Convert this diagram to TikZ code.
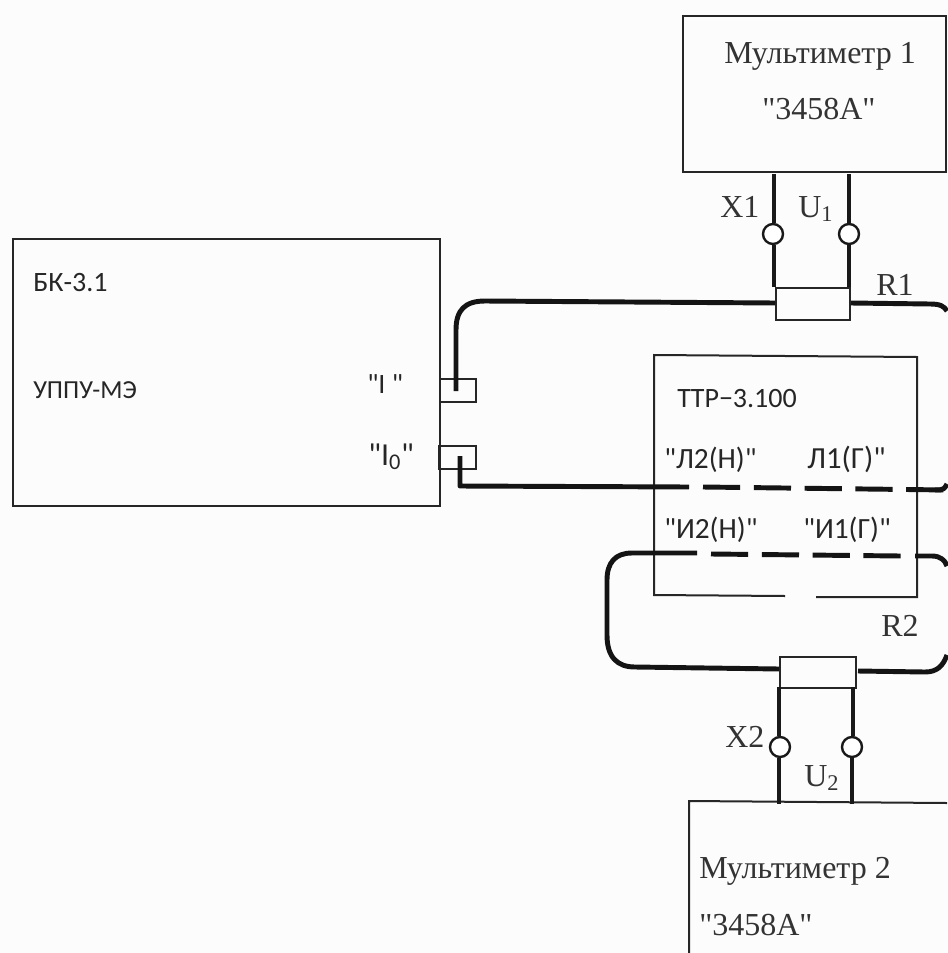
\documentclass[tikz,border=0pt]{standalone}
\usepackage{fontspec}
\newfontfamily\serfont{Liberation Serif}
\newfontfamily\calfont{Carlito}
\begin{document}
\begin{tikzpicture}[x=0.75pt,y=-0.75pt,
  box/.style={draw=black!85,line width=1.5pt,inner sep=0pt,anchor=north west,fill=none},
  wire/.style={draw=black!92,line width=3.7pt,line join=round},
  lead/.style={draw=black!90,line width=2.4pt},
  term/.style={circle,draw=black!90,line width=1.8pt,minimum size=15pt,inner sep=0pt,fill=white},
  ser/.style={font=\serfont\fontsize{24}{28}\selectfont,text=black!80,anchor=base west,inner sep=0pt},
  cal/.style={font=\calfont\fontsize{21}{25}\selectfont,text=black!85,anchor=base west,inner sep=0pt},
  dash1/.style={dash pattern=on 27.9pt off 10.2pt}]
\useasboundingbox (0,0) rectangle (947,953);
\fill[white!99!black] (0,0) rectangle (947,953);
% boxes
\node[box,minimum width=263*0.75pt,minimum height=156*0.75pt] (m1) at (682,15) {};
\node[box,minimum width=427*0.75pt,minimum height=267*0.75pt] (bk) at (12,238) {};
\node[box,minimum width=36*0.75pt,minimum height=23*0.75pt] (ci) at (439,378) {};
\node[box,minimum width=37*0.75pt,minimum height=23*0.75pt] (ci0) at (438,445) {};
\node[box,minimum width=74*0.75pt,minimum height=32*0.75pt] (r1) at (775,287) {};
\node[box,minimum width=76*0.75pt,minimum height=31*0.75pt] (r2) at (779,656) {};
% TTR outline with gap
\coordinate (ta) at (785,596);
\coordinate (tb) at (816,597);
\draw[draw=black!85,line width=1.5pt] (ta) -- (654,595) -- (654,355) -- (917,357) -- (917,597) -- (tb);
% Multimeter 2 box
\coordinate (m2a) at (689,953);
\coordinate (m2b) at (947,803);
\draw[draw=black!85,line width=1.5pt] (m2a) -- (689,801) -- (m2b);
% coordinates
\coordinate (pi) at (456,391);
\coordinate (pi0) at (460,456);
\coordinate (rr1) at (947,311);
\coordinate (ll) at (947,484);
\coordinate (la) at (689,487);
\coordinate (lb) at (703,487);
\coordinate (le) at (947,490);
\coordinate (ua) at (697,553);
\coordinate (ub) at (711,554);
\coordinate (uc) at (901,556);
\coordinate (ud) at (915,556);
\coordinate (ue) at (947,566);
\coordinate (vr) at (947,655);
% heavy wires
\draw[wire] (pi) -- (456,330) .. controls (456,310) and (465,301) .. (485,301) -- (r1.west |- 0,303);
\draw[wire] (r1.east |- 0,303) -- (930,304) .. controls (940,304) and (944,306) .. (rr1);
\draw[wire] (pi0) -- (460,486) -- (la);
\draw[wire,dash1] (lb) -- (le);
\draw[wire] (935,490) -- (940,490) .. controls (943,490) and (945,488) .. (ll);
\draw[wire] (ua) -- (632,553) .. controls (615,553) and (607,563) .. (607,580) -- (607,635) .. controls (607,658) and (618,667) .. (635,667) -- (r2.west |- 0,669);
\draw[wire,dash1] (ub) -- (uc);
\draw[wire] (ud) -- (932,556) .. controls (940,556) and (945,560) .. (ue);
\draw[wire] (858,671) -- (925,672) .. controls (937,672) and (943,666) .. (vr);
% leads and terminals
\node[term] (t1) at (773,234) {};
\node[term] (t2) at (849,234) {};
\node[term] (t3) at (780,747) {};
\node[term] (t4) at (852,747) {};
\draw[lead] (774,174) -- (t1.north -| 774,0);
\draw[lead] (t1.south -| 774,0) -- (774,287);
\draw[lead] (849,174) -- (t2);
\draw[lead] (t2) -- (849,287);
\draw[lead] (779,687) -- (t3.north -| 779,0);
\draw[lead] (t3.south -| 779,0) -- (779,804);
\draw[lead] (853,687) -- (t4.north -| 853,0);
\draw[lead] (t4.south -| 852,0) -- (852,804);
% text
\node[ser] (a1) at (724,63) {Мультиметр 1};
\node[ser] (a2) at (762,119) {"3458A"};
\node[ser] (a3) at (699,878) {Мультиметр 2};
\node[ser] (a4) at (699,935) {"3458A"};
\node[ser] (x1) at (720,217) {X1};
\node[ser] (u1) at (798,217) {U\textsubscript{1}};
\node[ser] (rn1) at (876,295) {R1};
\node[ser] (rn2) at (881,636) {R2};
\node[ser] (x2) at (725,747) {X2};
\node[ser] (u2) at (804,786) {U\textsubscript{2}};
\node[cal] (b1) at (33,291) {БК-3.1};
\node[cal,font=\calfont\fontsize{19.5}{24}\selectfont] (b2) at (33,398) {УППУ-МЭ};
\node[cal] (b3) at (367,393) {"I "};
\node[cal,font=\calfont\fontsize{24}{28}\selectfont] (b4) at (368,465) {"I\textsubscript{0}"};
\node[cal] (c0) at (677,407) {ТТР−3.100};
\node[cal,font=\calfont\fontsize{22}{26}\selectfont] (c1) at (664,468) {"Л2(Н)"};
\node[cal,font=\calfont\fontsize{23}{27}\selectfont] (c2) at (807,468) {Л1(Г)"};
\node[cal,font=\calfont\fontsize{22}{26}\selectfont] (c3) at (664,538) {"И2(Н)"};
\node[cal,font=\calfont\fontsize{22}{26}\selectfont] (c4) at (803,538) {"И1(Г)"};
\end{tikzpicture}
\end{document}
